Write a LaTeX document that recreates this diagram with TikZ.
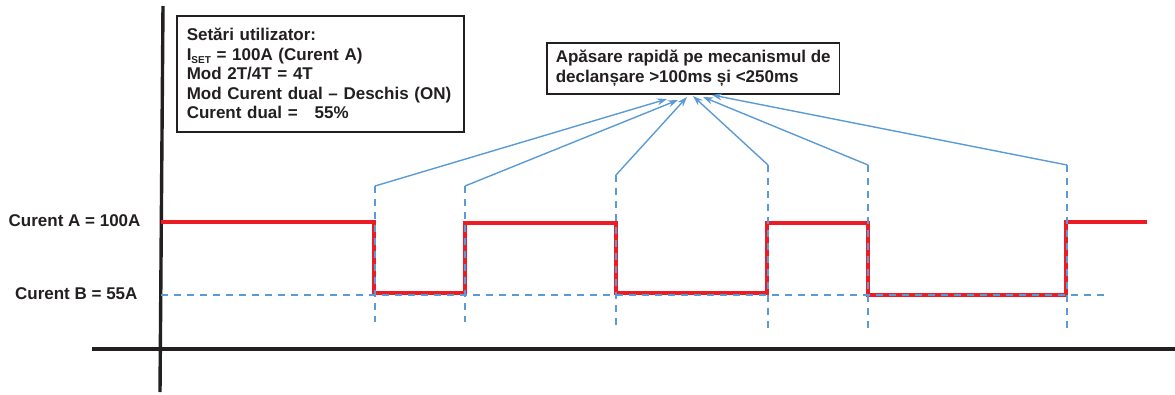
\documentclass[tikz,border=0pt]{standalone}
\usepackage{fontspec}
\setmainfont{Liberation Sans}
\usetikzlibrary{arrows.meta}
\definecolor{sigred}{RGB}{237,28,36}
\definecolor{lblue}{RGB}{91,155,213}
\definecolor{axblack}{RGB}{35,31,32}
\begin{document}
\begin{tikzpicture}[x=1pt,y=-1pt,
  txt/.style={font=\fontsize{17}{19.5}\selectfont\bfseries, text=axblack},
  infobox/.style={txt, draw=axblack, line width=1.5pt, align=left, inner sep=0pt},
  axisline/.style={draw=axblack, line width=3.4pt},
  signal/.style={draw=sigred, line width=4pt},
  guide/.style={draw=lblue, line width=1.8pt, dash pattern=on 7pt off 6pt},
  pointer/.style={draw=lblue, line width=1.4pt, -{Stealth[length=10pt,width=7pt]}}]
\useasboundingbox (0,0) rectangle (1175,394);
% axes
\coordinate (vtop) at (163,6);
\coordinate (vbot) at (160,392);
\coordinate (hl) at (92,349);
\coordinate (hr) at (1175,349);
\draw[axisline] (vtop) -- (vbot);
\draw[axisline] (hl) -- (hr);
% labels
\node[txt, anchor=east] (la) at (144,221) {Curent A = 100A};
\node[txt, anchor=east] (lb) at (141,294) {Curent B = 55A};
% settings box
\node[infobox, anchor=north west, minimum width=287pt, minimum height=116pt, text width=267pt, inner xsep=10pt] (settings) at (176,15)
{Setări utilizator:\\
I\raisebox{-0.35ex}{\fontsize{10}{10}\selectfont SET} = 100A (Curent A)\\
Mod 2T/4T = 4T\\
Mod Curent dual – Deschis (ON)\\
Curent dual = \ \ 55\%};
% note box
\node[infobox, anchor=north west, inner xsep=9pt, inner ysep=6pt, minimum height=51pt] (note) at (546,42)
{Apăsare rapidă pe mecanismul de\\declanșare >100ms și <250ms};
% signal
\draw[signal] (161,222) -- (374,222) -- (374,293) -- (465,293) -- (465,223) -- (616,223)
  -- (616,293) -- (767,293) -- (767,223) -- (868,223) -- (868,295) -- (1066,295)
  -- (1066,222) -- (1147,222);
% guides
\draw[guide] (161,295) -- (1106,295);
\coordinate (g1) at (375,186); \coordinate (g1b) at (375,322);
\coordinate (g2) at (465,186); \coordinate (g2b) at (465,322);
\coordinate (g3) at (616,175); \coordinate (g3b) at (616,330);
\coordinate (g4) at (768,165); \coordinate (g4b) at (768,330);
\coordinate (g5) at (868,165); \coordinate (g5b) at (868,330);
\coordinate (g6) at (1067,165); \coordinate (g6b) at (1067,330);
\foreach \i in {1,...,6} {\draw[guide] (g\i) -- (g\i b);}
% arrow targets
\coordinate (t1) at (667,99);
\coordinate (t2) at (678,100);
\coordinate (t3) at (687,97);
\coordinate (t4) at (693,96);
\coordinate (t5) at (703,97);
\coordinate (t6) at (712,95);
\foreach \i in {1,...,6} {\draw[pointer] (g\i) -- (t\i);}
\end{tikzpicture}
\end{document}
